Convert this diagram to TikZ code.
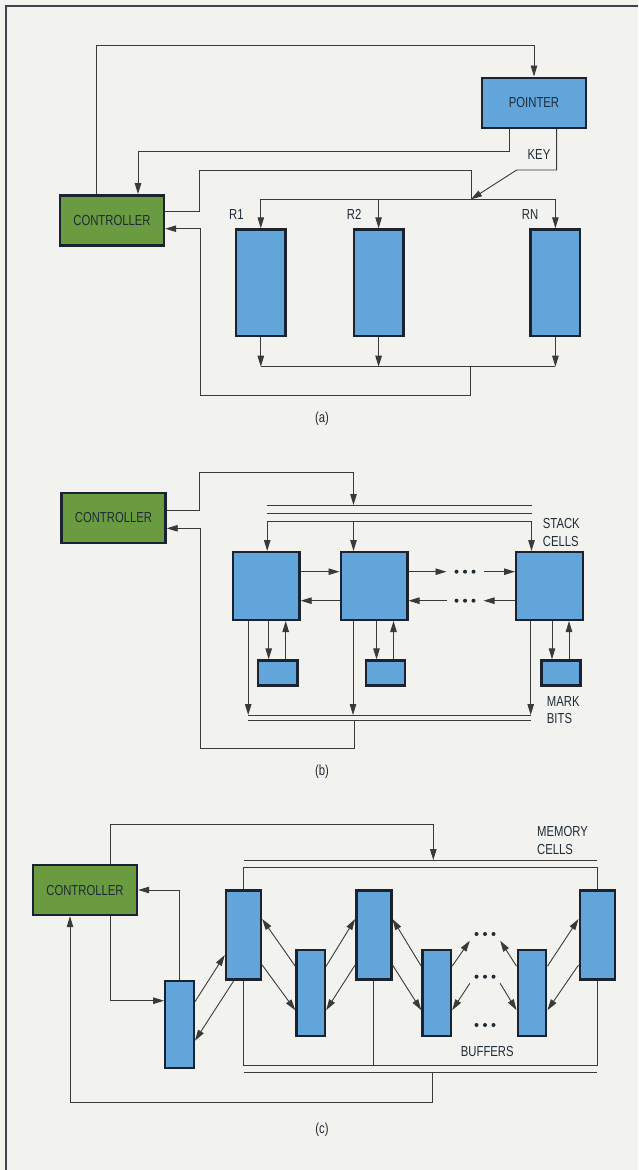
\documentclass[tikz,border=0pt]{standalone}
\usepackage{fontspec}
\newfontfamily\condfont{Liberation Sans}[FakeStretch=0.78]
\usepackage{tikz}
\usetikzlibrary{
  arrows.meta,
  positioning
}
\definecolor{PaperTone}{HTML}{F2F2EE}
\definecolor{CellBlue}{HTML}{62A5DB}
\definecolor{CtrlGreen}{HTML}{6A9B40}
\definecolor{BoxEdge}{HTML}{1B2330}
\definecolor{WireGrey}{HTML}{3A3A3A}
\definecolor{InkNavy}{HTML}{1F2B36}
\newcommand\figfont{\condfont\fontsize{14.5}{17.5}\selectfont}
\tikzset{
  % Controller box
  ctrl/.style={
    rectangle, draw=BoxEdge, fill=CtrlGreen, line width=2.4pt,
    minimum width=104pt, minimum height=50pt, inner sep=0pt,
    font=\figfont, text=InkNavy
  },
  % Blue storage block, size given per use
  blk/.style={
    rectangle, draw=BoxEdge, fill=CellBlue, line width=2.4pt,
    inner sep=0pt, font=\figfont, text=InkNavy
  },
  % Plain line
  wire/.style={line width=0.9pt, draw=WireGrey},
  % Arrow
  arr/.style={wire, -{Triangle[length=11pt,width=6.5pt]}},
  % Text label
  lbl/.style={font=\figfont, text=InkNavy, align=left, inner sep=0pt},
  % Row of three dots
  dotrow/.style={
    minimum width=#1, minimum height=13pt, inner sep=0pt,
    path picture={
      \foreach \k in {-1,0,1}
        \fill[InkNavy] ([xshift=\k*8.5pt]path picture bounding box.center) circle (2pt);
    }
  }
}

\begin{document}
\begin{tikzpicture}[x=1pt, y=-1pt]

  % Paper and frame
  \fill[PaperTone] (0,0) rectangle (638,1170);
  \useasboundingbox (0,0) rectangle (638,1170);
  \draw[line width=1.8pt, draw=BoxEdge!85] (6,1170) -- (6,6) -- (638,6);

  % ---------- (a) ----------
  \node[ctrl] (ctrlA) at (112,220.3) {CONTROLLER};
  \node[blk, minimum width=104pt, minimum height=50pt] (pointer) at (534,102.7) {POINTER};
  \foreach \i/\x/\n in {1/260.8/R1, 2/378.6/R2, N/555.4/RN}{
    \node[blk, minimum width=49.6pt, minimum height=106.6pt] (r\i) at (\x,282.8) {};
    \node[lbl, above left=9pt and 17pt of r\i.north] (lr\i) {\n};
  }
  \node[lbl] (key) at (539,155) {KEY};

  \coordinate (keyjoin) at (471,199.3);
  \coordinate (outA) at (470,366.7);

  \draw[arr] ([xshift=-16pt]ctrlA.north) -- ++(0,-148.3) -| (pointer.north);
  \draw[arr] ([xshift=-25pt]pointer.south) |- (138,151) -- ([xshift=26pt]ctrlA.north);
  \draw[arr] ([xshift=22.6pt]pointer.south) |- (516.7,170) -- (keyjoin);
  \draw[wire] ([yshift=8.6pt]ctrlA.east) -| (199.4,170.7) -| (keyjoin);

  \draw[wire] (r1.north |- keyjoin) -- (rN.north |- keyjoin);
  \draw[wire] (r1.south |- outA) -- (rN.south |- outA);
  \foreach \i in {1,2,N}{
    \draw[arr] (r\i.north |- keyjoin) -- (r\i.north);
    \draw[arr] (r\i.south) -- (r\i.south |- outA);
  }
  \draw[arr] (outA) |- (200,395) |- ([yshift=-8.4pt]ctrlA.east);

  \node[lbl] (capa) at (322,419) {(a)};

  % ---------- (b) ----------
  \node[ctrl] (ctrlB) at (113.5,518) {CONTROLLER};
  \foreach \i/\x/\t/\b in {1/266.2/35.5/16.5, 2/374/14/13.5, 3/549.5/16.5/15.7}{
    \node[blk, minimum width=66.6pt, minimum height=67.6pt] (stk\i) at (\x,586) {};
    \node[blk, minimum width=39.3pt, minimum height=25pt] (mb\i) at (\x+11.5,673) {};
    \draw[arr] ([xshift=\t pt,yshift=30pt]stk\i.north west) -- ([xshift=\t pt]stk\i.north west);
    \draw[arr] ([xshift=\b pt]stk\i.south west) -- ++(0,94);
    \draw[arr] ([xshift=37pt]stk\i.south west) -- ([xshift=-9pt]mb\i.north);
    \draw[arr] ([xshift=8pt]mb\i.north) -- ([xshift=54pt]stk\i.south west);
  }
  % top and bottom buses
  \foreach \s in {30,37.7,46}
    \draw[wire] ([xshift=35.5pt,yshift=\s pt]stk1.north west) -- ([xshift=16.5pt,yshift=\s pt]stk3.north west);
  \foreach \s in {94,99.7}
    \draw[wire] ([xshift=16.5pt,yshift=-\s pt]stk1.south west) -- ([xshift=15.7pt,yshift=-\s pt]stk3.south west);

  \coordinate (inB) at ([xshift=14pt,yshift=46pt]stk2.north west);
  \coordinate (outB) at ([xshift=14.5pt,yshift=-99.7pt]stk2.south west);
  \draw[arr] ([yshift=8pt]ctrlB.east) -| (199.4,472.7) -| (inB);
  \draw[arr] (outB) |- (200,748.3) |- ([yshift=-10.3pt]ctrlB.east);

  % shifting between cells
  \node[dotrow=36.6pt] (dU) at (465,571.7) {};
  \node[dotrow=36.6pt] (dL) at (465,600.7) {};
  \draw[arr] ([yshift=14.3pt]stk1.east) -- ([yshift=14.3pt]stk2.west);
  \draw[arr] ([yshift=-14.7pt]stk2.west) -- ([yshift=-14.7pt]stk1.east);
  \draw[arr] ([yshift=14.3pt]stk2.east) -- (dU.west);
  \draw[arr] (dU.east) -- ([yshift=14.3pt]stk3.west);
  \draw[arr] ([yshift=-14.7pt]stk3.west) -- (dL.east);
  \draw[arr] (dL.west) -- ([yshift=-14.7pt]stk2.east);

  \node[lbl, anchor=west] (stklbl) at (542.7,532.5) {STACK\\CELLS};
  \node[lbl, anchor=west] (mblbl) at (546.7,710) {MARK\\BITS};
  \node[lbl] (capb) at (322,771.7) {(b)};

  % ---------- (c) ----------
  \node[ctrl] (ctrlC) at (85,890) {CONTROLLER};
  \node[blk, minimum width=28.5pt, minimum height=86.5pt] (buf0) at (179.5,1024.5) {};
  \foreach \i/\x in {1/243.5, 2/373.8, 3/597.2}
    \node[blk, minimum width=35pt, minimum height=89pt] (mem\i) at (\x,935) {};
  \foreach \i/\x in {1/310.7, 2/436.7, 3/532}
    \node[blk, minimum width=28.5pt, minimum height=86pt] (buf\i) at (\x,992.7) {};
  \node[dotrow=30pt] (dT) at (485,934) {};
  \node[dotrow=30pt] (dM) at (485,976.7) {};
  \node[dotrow=30pt] (dB) at (485,1025) {};

  \coordinate (ctop) at (433.3,860);
  \coordinate (cbus) at (420,1065);
  \coordinate (cret) at (432,1072.7);

  % buses round the memory cells
  \draw[wire] (mem1.north |- ctop) -- (mem3.north |- ctop);
  \draw[wire] (mem1.north) -- ++(0,-22) -| (mem3.north);
  \draw[wire] (mem1.south) |- (cbus) -| (mem3.south);
  \draw[wire] (mem2.south) -- (mem2.south |- cbus);
  \draw[wire] (mem1.south |- cret) -- (mem3.south |- cret);

  % controller links
  \draw[arr] ([xshift=25.7pt]ctrlC.north) -- ++(0,-39) -| (ctop);
  \draw[arr] (cret) -- ++(0,29.6) -| ([xshift=-15pt]ctrlC.south);
  \draw[arr] ([xshift=25.7pt]ctrlC.south) |- ([yshift=23.8pt]buf0.west);
  \draw[arr] (buf0.north) |- (ctrlC.east);

  % zigzag between buffers and cells
  \draw[arr] ([yshift=22.8pt]buf0.east) -- ([yshift=-20pt]mem1.west);
  \draw[arr] ([xshift=9pt]mem1.south west) -- ([yshift=-16.2pt]buf0.east);
  \foreach \i in {1,2}{
    \draw[arr] ([yshift=26.5pt]buf\i.west) -- ([yshift=16pt]mem\i.east);
    \draw[arr] ([yshift=-30pt]mem\i.east) -- ([yshift=-17.5pt]buf\i.west);
  }
  \foreach \b/\m in {1/2, 3/3}{
    \draw[arr] ([yshift=26.5pt]buf\b.east) -- ([yshift=16pt]mem\m.west);
    \draw[arr] ([yshift=-30pt]mem\m.west) -- ([yshift=-17.5pt]buf\b.east);
  }
  \draw[arr] ([yshift=26.5pt]buf2.east) -- (dT.south west);
  \draw[arr] (dM.south west) -- ([yshift=-17.5pt]buf2.east);
  \draw[arr] ([yshift=26.5pt]buf3.west) -- (dT.south east);
  \draw[arr] (dM.south east) -- ([yshift=-17.5pt]buf3.west);

  \node[lbl, anchor=west] (memlbl) at (537,840.5) {MEMORY\\CELLS};
  \node[lbl] (buflbl) at (487.3,1051.7) {BUFFERS};
  \node[lbl] (capc) at (322,1130) {(c)};

\end{tikzpicture}
\end{document}
